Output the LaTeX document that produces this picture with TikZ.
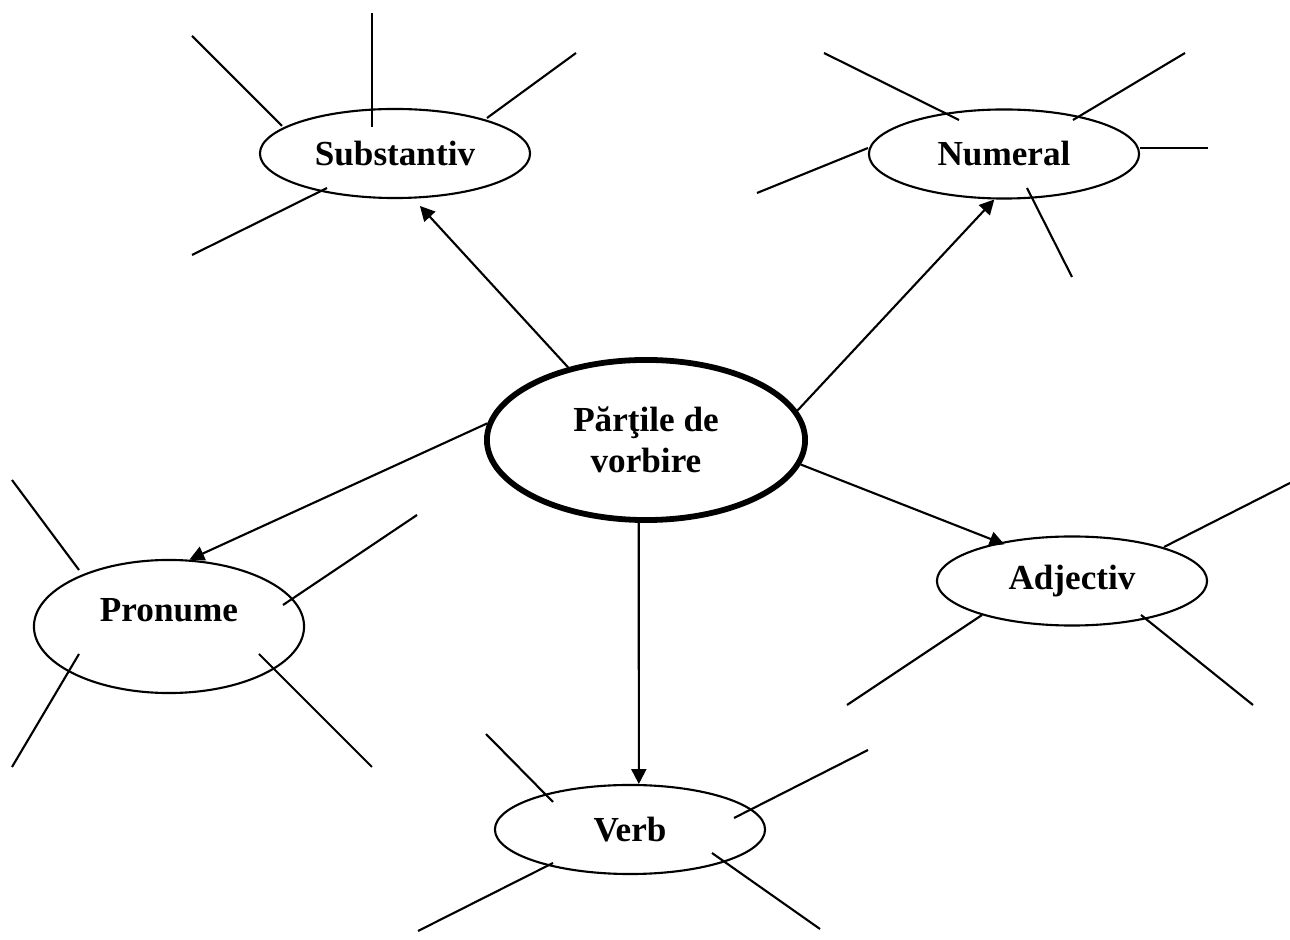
\documentclass[tikz,border=0pt]{standalone}
\usepackage{fontspec}
\setmainfont{Liberation Serif}
\usetikzlibrary{shapes.geometric,arrows.meta}

\begin{document}
\begin{tikzpicture}[x=0.01cm,y=-0.01cm,line width=0.6pt,
  part/.style={draw,ellipse,inner sep=0pt,minimum width=2.7cm,minimum height=0.89cm,
    font=\fontsize{10pt}{11.6pt}\selectfont\bfseries},
  main/.style={part,line width=1.65pt,minimum width=3.18cm,minimum height=1.6cm,align=center},
  arr/.style={-{Triangle[length=4.2pt,width=4.2pt]}}]
\useasboundingbox (0,0) rectangle (1290,940);
\node[main] (parts) at (646,440) {P\u{a}r\c{t}ile de\\vorbire};
\node[part] (subst) at (395,153.5) {Substantiv};
\node[part] (num) at (1004,154) {Numeral};
\node[part,minimum height=1.33cm,text depth=0.34cm] (pron) at (169,626.5) {Pronume};
\node[part] (adj) at (1072,581) {Adjectiv};
\node[part] (verb) at (630,829.5) {Verb};
\draw[arr,shorten >=2.8pt] (parts.137.6) -- (subst.-68);
\draw[arr] (parts.11.7) -- (num.-102.7);
\draw[arr] (parts.174.5) -- (pron.73.5);
\draw[arr,shorten >=-1.5pt] (parts.-9.4) -- (adj.152.7);
\draw[arr] (parts.-95.3) -- (verb.79.3);
\draw (192,36) -- (282,126); \draw (372,13) -- (372,127); \draw (576,53) --
(487,118); \draw (327,188) -- (192,255);
\draw (824,53) -- (959,120); \draw (1185,53) -- (1073,120); \draw (1140,148) --
(1208,148); \draw (868,148) -- (757,193); \draw (1027,188) -- (1072,277);
\draw (12,480) -- (79,570); \draw (417,515) -- (283,605); \draw (79,654) --
(12,767); \draw (259,654) -- (372,767);
\draw (1164,547) -- (1290,483); \draw (982,615) -- (847,705); \draw (1141,615)
-- (1253,705);
\draw (486,734) -- (553,802); \draw (868,750) -- (734,818); \draw (553,863) --
(418,931); \draw (712,853) -- (820,929);
\end{tikzpicture}
\end{document}
